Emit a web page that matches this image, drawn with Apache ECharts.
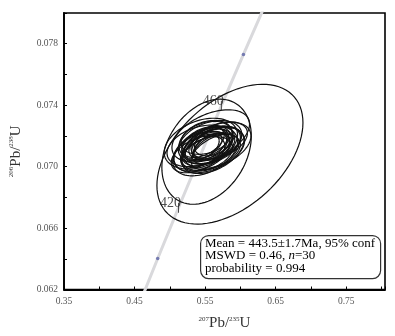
<!DOCTYPE html>
<html>
<head>
<meta charset="utf-8">
<script src="https://cdn.jsdelivr.net/npm/echarts@6/dist/echarts.min.js"></script>
<style>html,body{margin:0;padding:0;background:#fff}#c{width:395px;height:336px}</style>
</head>
<body>
<div id="c"></div>
<script>
// Concordia curve (age in Ma, 207Pb/235U, 206Pb/238U)
const concAges = [380, 400, 420, 440, 460, 480, 500];
const conc207 = [0.45389, 0.48281, 0.51231, 0.54239, 0.57307, 0.60437, 0.63628];
const conc206 = [0.060719, 0.064016, 0.067322, 0.070638, 0.073965, 0.077302, 0.08065];
const dotAges = [400, 480];
const labelAges = [420, 460];

// Error ellipses: centre, half-width (207/235), centre, half-height (206/238), correlation
const e207    = [0.5852, 0.5521, 0.553, 0.560, 0.548, 0.557, 0.545, 0.566, 0.551, 0.558, 0.542, 0.562,
                 0.555, 0.549, 0.570, 0.540, 0.556, 0.552, 0.564, 0.547, 0.559, 0.553, 0.544, 0.567,
                 0.558, 0.550, 0.561, 0.546, 0.563, 0.554];
const e207err = [0.1035, 0.0634, 0.036, 0.040, 0.033, 0.045, 0.040, 0.035, 0.038, 0.042, 0.046, 0.030,
                 0.028, 0.032, 0.040, 0.038, 0.050, 0.036, 0.034, 0.030, 0.026, 0.036, 0.052, 0.048,
                 0.055, 0.046, 0.044, 0.024, 0.028, 0.020];
const e206    = [0.07081, 0.07097, 0.07125, 0.07140, 0.07110, 0.07160, 0.07100, 0.07150, 0.07170, 0.07090, 0.07135, 0.07120,
                 0.07150, 0.07145, 0.07170, 0.07080, 0.07110, 0.07190, 0.07095, 0.07160, 0.07130, 0.07085, 0.07150, 0.07140,
                 0.07200, 0.07100, 0.07105, 0.07125, 0.07165, 0.07135];
const e206err = [0.00455, 0.00342, 0.00120, 0.00125, 0.00115, 0.00140, 0.00130, 0.00110, 0.00125, 0.00120, 0.00135, 0.00100,
                 0.00095, 0.00110, 0.00120, 0.00120, 0.00150, 0.00110, 0.00115, 0.00100, 0.00090, 0.00110, 0.00165, 0.00150,
                 0.00170, 0.00160, 0.00150, 0.00085, 0.00095, 0.00080];
const eRho    = [0.45, 0.30, 0.45, 0.40, 0.50, 0.35, 0.40, 0.45, 0.30, 0.45, 0.35, 0.55,
                 0.50, 0.40, 0.40, 0.45, 0.40, 0.30, 0.50, 0.45, 0.50, 0.35, 0.35, 0.40,
                 0.45, 0.40, 0.45, 0.50, 0.40, 0.55];

const xTickLabels = ['0.35', '0.45', '0.55', '0.65', '0.75'];
const yTickLabels = ['0.062', '0.066', '0.070', '0.074', '0.078'];

const statLines = ['Mean = 443.5\u00b11.7Ma, 95% conf', 'MSWD = 0.46, ', 'n', '=30', 'probability = 0.994'];

const SERIF = "'Liberation Serif','Times New Roman',serif";

const concData = concAges.map((a, i) => [conc207[i], conc206[i]]);
const dotData = dotAges.map(a => { const i = concAges.indexOf(a); return [conc207[i], conc206[i]]; });
const labData = labelAges.map(a => { const i = concAges.indexOf(a); return [conc207[i], conc206[i], a]; });
const ellData = e207.map((v, i) => [v, e207err[i], e206[i], e206err[i], eRho[i]]);

function fmtX(v) {
  const s = v.toFixed(2);
  return xTickLabels.indexOf(s) >= 0 ? s : '';
}
function fmtY(v) {
  const s = v.toFixed(3);
  return yTickLabels.indexOf(s) >= 0 ? s : '';
}

const chart = echarts.init(document.getElementById('c'), null, {renderer: 'canvas'});
chart.setOption({
  animation: false,
  backgroundColor: '#fff',
  grid: {left: 62, top: 13, right: 10, bottom: 44, show: true, borderColor: '#000', borderWidth: 1.6, backgroundColor: 'transparent'},
  xAxis: {
    type: 'value', min: 0.35, max: 0.805, interval: 0.05,
    axisLine: {show: true, onZero: false, lineStyle: {color: '#000', width: 1.8}},
    axisTick: {show: true, inside: true, length: 3, lineStyle: {color: '#000'}},
    splitLine: {show: false},
    axisLabel: {formatter: fmtX, fontFamily: SERIF, fontSize: 9.5, color: '#555', margin: 7, showMaxLabel: true},
    name: '{s|207}{b|Pb/}{s|235}{b|U}', nameLocation: 'middle', nameGap: 26,
    nameTextStyle: {rich: {
      b: {fontFamily: SERIF, fontSize: 15, color: '#333', lineHeight: 16},
      s: {fontFamily: SERIF, fontSize: 7, color: '#333', verticalAlign: 'top', lineHeight: 16}
    }}
  },
  yAxis: {
    type: 'value', min: 0.062, max: 0.080, interval: 0.002,
    axisLine: {show: true, onZero: false, lineStyle: {color: '#000', width: 1.8}},
    axisTick: {show: true, inside: true, length: 3, lineStyle: {color: '#000'}},
    splitLine: {show: false},
    axisLabel: {formatter: fmtY, fontFamily: SERIF, fontSize: 9.5, color: '#555', margin: 6},
    name: '{s|206}{b|Pb/}{s|238}{b|U}', nameLocation: 'middle', nameGap: 40, nameRotate: 90,
    nameTextStyle: {rich: {
      b: {fontFamily: SERIF, fontSize: 15, color: '#333', lineHeight: 16},
      s: {fontFamily: SERIF, fontSize: 7, color: '#333', verticalAlign: 'top', lineHeight: 16}
    }}
  },
  series: [
    {
      type: 'line', data: concData, symbol: 'none', clip: true, z: 1, silent: true,
      lineStyle: {color: '#d9d9dc', width: 3}
    },
    {
      type: 'custom', z: 3, clip: true, silent: true,
      data: ellData,
      encode: {x: [0], y: [2]},
      renderItem: function (params, api) {
        const cx = api.value(0), hx = api.value(1), cy = api.value(2), hy = api.value(3), r = api.value(4);
        const q = Math.sqrt(1 - r * r);
        const pts = [];
        const N = 90;
        for (let k = 0; k <= N; k++) {
          const t = k / N * Math.PI * 2;
          pts.push(api.coord([cx + hx * Math.cos(t), cy + hy * (r * Math.cos(t) + q * Math.sin(t))]));
        }
        return {type: 'polyline', shape: {points: pts}, style: {stroke: '#111', fill: null, lineWidth: 1.2}};
      }
    },
    {
      type: 'scatter', data: dotData, symbol: 'circle', symbolSize: 3.5, z: 4, silent: true,
      itemStyle: {color: '#5b63a6'}
    },
    {
      type: 'scatter', data: labData, symbol: 'rect', symbolSize: [1, 10], z: 5, silent: true,
      itemStyle: {color: '#222'},
      label: {
        show: true, position: 'left', distance: 0, offset: [3, -4],
        formatter: p => String(p.value[2]),
        fontFamily: SERIF, fontSize: 14, color: '#222'
      }
    }
  ],
  graphic: [
    {
      type: 'rect', left: 200, top: 235, z: 10,
      shape: {width: 180, height: 43, r: 8},
      style: {fill: '#fff', stroke: '#333', lineWidth: 1.2}
    },
    {
      type: 'text', left: 205, top: 237, z: 11,
      style: {
        text: '{t|' + statLines[0] + '}\n{t|' + statLines[1] + '}{i|' + statLines[2] + '}{t|' + statLines[3] + '}\n{t|' + statLines[4] + '}',
        rich: {
          t: {fontFamily: SERIF, fontSize: 13, color: '#222', lineHeight: 12.5},
          i: {fontFamily: SERIF, fontSize: 13, color: '#222', lineHeight: 12.5, fontStyle: 'italic'}
        }
      }
    }
  ]
});
</script>
</body>
</html>
